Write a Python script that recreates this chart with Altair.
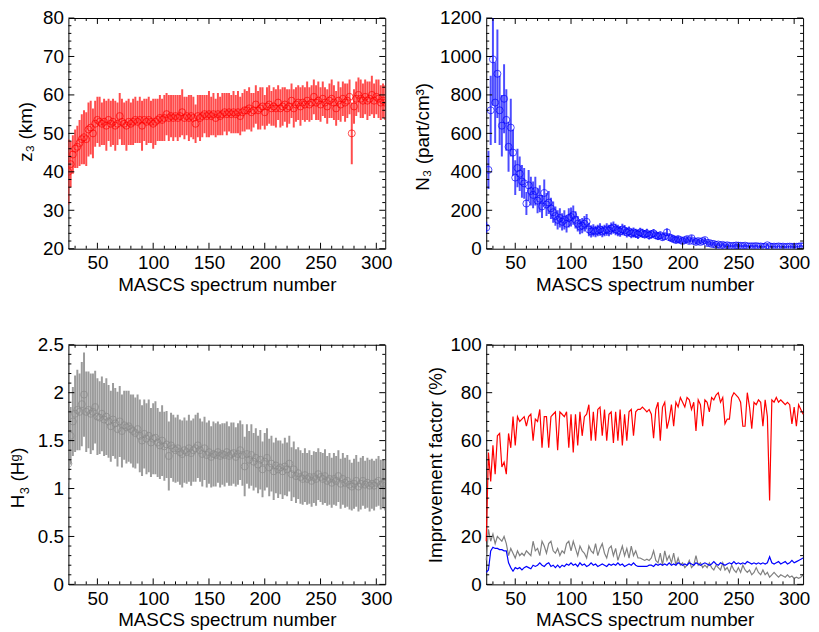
import altair as alt
import pandas as pd

FONT = "Liberation Sans"
FS = 19
RED, BLUE, GRAY = "#ff0000", "#0000ff", "#808080"

# MASCS spectrum numbers (every second spectrum, 24..308)
SPEC = list(range(24, 309, 2))

# z3 (km) and its error
Z = [40, 42, 44.5, 46, 46.5, 47.5, 48.5, 49, 48.5, 51,
     51.5, 50, 52.5, 53.5, 53, 52.5, 53, 52, 53.5, 52.5,
     53, 52, 52.5, 54.5, 53, 52.5, 52, 53, 52.5, 53,
     53.5, 53, 53.5, 52, 53.5, 53, 53.5, 53, 52.5, 53,
     53.5, 54, 53.5, 54, 55, 54, 54.5, 54, 54.5, 54,
     54.5, 55.5, 54, 54.5, 54, 54.5, 54, 52.5, 54.5, 54,
     54.5, 55, 54.5, 55, 54.5, 55, 54, 55, 54.5, 55,
     55.5, 55, 55.5, 55, 55.5, 55, 55.5, 54.5, 55.5, 56,
     56, 56.5, 55.5, 56, 57.5, 56, 56.5, 57, 55.5, 57,
     57.5, 56.5, 57, 56.5, 58, 56.5, 57, 57.5, 56.5, 57,
     58.5, 56.5, 57.5, 58, 57, 58, 57.5, 58.5, 57.5, 58,
     59.5, 58, 58.5, 57.5, 59, 58, 57, 58.5, 59, 58,
     56.5, 58.5, 57.5, 59, 58, 58.5, 59.5, 50, 57, 59,
     60, 59, 58.5, 59.5, 58.5, 59, 60, 58.5, 59.5, 59,
     58, 58.5, 58]
ZE = [8.5, 6, 5, 5, 5.5, 6, 6.5, 7, 7, 7,
      7, 6.5, 6, 6, 6.5, 5.5, 6, 6.5, 5.5, 6,
      6, 6.5, 5.5, 6, 6, 5.5, 6.5, 6, 5.5, 6,
      6, 5.5, 6, 6.5, 5.5, 6, 6, 5.5, 6.5, 6,
      5.5, 6, 5.5, 6, 5.5, 6, 5.5, 6, 5.5, 6,
      5.5, 6, 5.5, 5, 6, 5.5, 5.5, 5, 5.5, 6,
      5.5, 5, 5.5, 6, 5, 5.5, 5, 5.5, 5, 5.5,
      5, 5.5, 5, 5, 5.5, 5, 5.5, 5, 5, 5.5,
      5, 5.5, 5, 4.5, 5, 5, 5.5, 5, 4.5, 5,
      5, 4.5, 5, 5, 4.5, 5, 5, 4.5, 5, 4.5,
      4.5, 5, 4.5, 4.5, 5, 4.5, 4.5, 5, 4.5, 4.5,
      4.5, 4.5, 5, 4.5, 4.5, 4, 4.5, 4.5, 5, 4.5,
      4.5, 5, 4.5, 4.5, 5, 4.5, 4.5, 8, 4.5, 4.5,
      4.5, 5, 4.5, 4.5, 5, 4.5, 5, 4.5, 4.5, 5,
      4.5, 4.5, 4.5]

# N3 (part/cm3) and its error
N = [110, 410, 720, 985, 760, 910, 720, 640, 780, 670,
     530, 630, 500, 370, 420, 390, 350, 340, 235, 330,
     300, 280, 300, 250, 260, 220, 290, 230, 240, 210,
     190, 170, 150, 160, 140, 150, 130, 160, 165, 175,
     150, 130, 115, 120, 130, 140, 100, 90, 95, 90,
     95, 100, 90, 95, 100, 95, 105, 110, 100, 95,
     90, 100, 95, 85, 90, 80, 85, 80, 75, 85,
     80, 75, 80, 70, 75, 80, 70, 65, 70, 60,
     65, 85, 60, 55, 50, 45, 50, 45, 40, 45,
     50, 40, 55, 40, 35, 40, 35, 40, 45, 30,
     30, 25, 25, 20, 22, 18, 20, 15, 18, 15,
     14, 15, 17, 16, 15, 14, 16, 13, 12, 13,
     12, 14, 11, 12, 10, 11, 18, 12, 10, 11,
     10, 12, 10, 11, 9, 10, 11, 10, 9, 10,
     11, 13, 12]
NE = [30, 100, 180, 240, 210, 230, 180, 160, 180, 160,
      130, 150, 120, 90, 100, 90, 85, 80, 60, 80,
      75, 70, 75, 65, 70, 60, 70, 60, 60, 55,
      55, 50, 50, 50, 45, 50, 45, 50, 50, 50,
      45, 40, 40, 40, 40, 40, 35, 32, 32, 30,
      30, 32, 30, 30, 32, 30, 32, 32, 30, 30,
      28, 30, 28, 26, 26, 25, 26, 24, 24, 24,
      24, 22, 24, 22, 22, 22, 20, 20, 20, 18,
      18, 20, 18, 18, 17, 16, 17, 15, 15, 15,
      15, 15, 16, 14, 13, 13, 12, 13, 13, 12,
      11, 10, 10, 9, 9, 9, 8, 8, 8, 7,
      7, 7, 7, 7, 7, 6, 7, 6, 6, 6,
      6, 6, 6, 6, 5, 5, 6, 5, 5, 5,
      5, 5, 5, 5, 5, 5, 5, 5, 5, 5,
      5, 6, 6]

# H3 (Hg) and its error
H = [1.26, 1.55, 1.70, 1.78, 1.82, 1.80, 1.88, 1.98, 1.80, 1.82,
     1.78, 1.80, 1.85, 1.75, 1.74, 1.78, 1.72, 1.75, 1.70, 1.65,
     1.72, 1.68, 1.62, 1.70, 1.60, 1.66, 1.64, 1.65, 1.62, 1.60,
     1.58, 1.62, 1.55, 1.50, 1.57, 1.52, 1.55, 1.48, 1.52, 1.53,
     1.48, 1.45, 1.50, 1.44, 1.46, 1.34, 1.45, 1.42, 1.40, 1.42,
     1.38, 1.36, 1.40, 1.38, 1.42, 1.37, 1.40, 1.42, 1.45, 1.40,
     1.36, 1.42, 1.35, 1.38, 1.33, 1.36, 1.35, 1.38, 1.34, 1.36,
     1.35, 1.38, 1.34, 1.36, 1.37, 1.33, 1.36, 1.40, 1.35, 1.23,
     1.36, 1.30, 1.35, 1.28, 1.32, 1.25, 1.30, 1.20, 1.28, 1.32,
     1.22, 1.26, 1.18, 1.24, 1.20, 1.22, 1.18, 1.23, 1.20, 1.26,
     1.15, 1.20, 1.13, 1.16, 1.12, 1.10, 1.14, 1.10, 1.12, 1.08,
     1.12, 1.10, 1.15, 1.12, 1.10, 1.13, 1.08, 1.10, 1.06, 1.10,
     1.08, 1.13, 1.05, 1.10, 1.06, 1.08, 1.04, 1.02, 1.05, 1.08,
     1.02, 1.05, 1.08, 1.04, 1.06, 1.03, 1.05, 1.03, 1.06, 1.08,
     1.04, 1.05, 1.03]
HE = [0.20, 0.30, 0.36, 0.40, 0.42, 0.40, 0.44, 0.44, 0.42, 0.40,
      0.42, 0.40, 0.38, 0.40, 0.38, 0.39, 0.38, 0.40, 0.38, 0.37,
      0.38, 0.37, 0.39, 0.37, 0.38, 0.36, 0.38, 0.37, 0.36, 0.38,
      0.37, 0.36, 0.38, 0.37, 0.36, 0.37, 0.38, 0.36, 0.37, 0.38,
      0.36, 0.35, 0.37, 0.36, 0.35, 0.36, 0.34, 0.35, 0.34, 0.35,
      0.34, 0.35, 0.34, 0.33, 0.35, 0.34, 0.33, 0.35, 0.34, 0.33,
      0.34, 0.33, 0.34, 0.33, 0.32, 0.34, 0.33, 0.32, 0.33, 0.32,
      0.33, 0.32, 0.31, 0.33, 0.32, 0.31, 0.32, 0.31, 0.32, 0.31,
      0.31, 0.30, 0.32, 0.30, 0.31, 0.30, 0.31, 0.29, 0.30, 0.31,
      0.30, 0.29, 0.30, 0.29, 0.30, 0.28, 0.29, 0.30, 0.28, 0.29,
      0.28, 0.29, 0.28, 0.27, 0.28, 0.27, 0.28, 0.27, 0.28, 0.27,
      0.27, 0.28, 0.27, 0.26, 0.27, 0.28, 0.26, 0.27, 0.26, 0.27,
      0.26, 0.27, 0.26, 0.27, 0.26, 0.27, 0.26, 0.25, 0.26, 0.27,
      0.26, 0.27, 0.26, 0.25, 0.26, 0.27, 0.26, 0.26, 0.25, 0.26,
      0.26, 0.25, 0.26]

# Improvement factor (%)
IMP_RED = [18, 55, 43, 58, 46, 62, 63, 49, 51, 46,
           63, 57, 70, 58, 70, 68, 69, 70, 66, 70,
           71, 60, 69, 68, 73, 57, 70, 70, 57, 70,
           71, 72, 56, 72, 71, 70, 72, 57, 71, 55,
           71, 58, 72, 62, 70, 71, 75, 60, 72, 60,
           73, 74, 62, 73, 60, 71, 72, 59, 72, 60,
           73, 58, 71, 60, 72, 73, 62, 72, 73, 73,
           74, 73, 72, 73, 71, 61, 73, 76, 60, 74,
           76, 65, 69, 75, 66, 76, 74, 78, 76, 74,
           78, 77, 73, 76, 64, 77, 75, 66, 77, 76,
           72, 78, 77, 79, 80, 76, 78, 67, 69, 69,
           78, 80, 79, 78, 76, 66, 66, 80, 74, 65,
           76, 75, 77, 76, 66, 77, 70, 35, 77, 76,
           78, 76, 77, 76, 75, 76, 75, 67, 74, 66,
           75, 73, 71]
IMP_GRAY = [10, 23, 18, 21, 17, 20, 19, 18, 20, 17,
            12, 15, 13, 11, 14, 12, 13, 12, 14, 13,
            12, 18, 14, 15, 12, 18, 16, 13, 17, 18,
            14, 13, 15, 12, 14, 13, 17, 18, 14, 18,
            15, 12, 16, 14, 13, 11, 16, 14, 13, 17,
            12, 15, 17, 13, 11, 15, 16, 12, 15, 10,
            13, 16, 12, 15, 11, 16, 12, 14, 11, 11,
            10.5, 10, 10.5, 10, 11, 14, 10, 9, 13, 8,
            14, 10, 12, 9, 13, 8, 11, 8, 9, 7,
            8, 10, 7, 8, 12, 8, 9, 7, 8, 7,
            9, 7, 6, 8, 7, 6, 9, 6, 7, 5,
            8, 6, 5, 7, 5, 8, 6, 5, 6, 4,
            5, 7, 5, 4, 6, 4, 5, 3, 4, 5,
            4, 3, 4, 3.5, 3, 4, 3, 3.5, 2.5, 3,
            2.5, 3, 4]
IMP_BLUE = [5, 6, 14, 15.5, 15, 15, 14.5, 14.5, 14, 14,
            9, 7, 5.5, 7, 6.5, 7, 6, 7, 7.5, 7,
            6.5, 8, 7.5, 8, 9, 8, 7.5, 8.5, 9, 7.5,
            8, 7, 8, 7, 8, 7.5, 8.5, 8, 9, 8,
            8.5, 7.5, 9, 8, 8.5, 7.5, 8, 9, 8, 8.5,
            7.5, 8, 8.5, 8, 7.5, 8.5, 8, 8.5, 8, 9,
            8, 8.5, 7.5, 8, 8.5, 8, 9, 8, 7.5, 7.5,
            7.5, 7.5, 7.5, 8, 8, 7.5, 8.5, 8, 8.5, 8,
            8.5, 8, 9, 8, 8.5, 8, 9, 8.5, 8, 8.5,
            8, 9, 8.5, 8, 9, 8.5, 8, 8.5, 9, 8.5,
            8, 8.5, 9.5, 8.5, 8, 9, 8.5, 8, 8.5, 9,
            8.5, 9.5, 8.5, 9, 8.5, 9, 8.5, 9.5, 9, 8.5,
            9, 8.5, 9, 8.5, 9, 8.5, 9, 11.5, 9, 8.5,
            9, 9.5, 8.5, 9, 9.5, 8.5, 9, 10, 9, 9.5,
            10, 10.5, 11]

# tick values
X_MAJOR = [50, 100, 150, 200, 250, 300]
X_MINOR = [v for v in range(30, 301, 10) if v % 50]
Z_MAJOR = [20, 30, 40, 50, 60, 70, 80]
Z_MINOR = [v for v in range(20, 81, 2) if v % 10]
N_MAJOR = [0, 200, 400, 600, 800, 1000, 1200]
N_MINOR = [v for v in range(0, 1201, 40) if v % 200]
H_MAJOR = [0, 0.5, 1, 1.5, 2, 2.5]
H_MINOR = [round(v / 10, 1) for v in range(0, 26) if v % 5]
I_MAJOR = [0, 20, 40, 60, 80, 100]
I_MINOR = [v for v in range(0, 101, 4) if v % 20]

df = pd.DataFrame({"spec": SPEC, "z": Z, "ze": ZE, "n": N, "ne": NE,
                   "h": H, "he": HE, "red": IMP_RED, "gray": IMP_GRAY,
                   "blue": IMP_BLUE})
for c, e in (("z", "ze"), ("n", "ne"), ("h", "he")):
    df[c + "_lo"] = df[c] - df[e]
    df[c + "_hi"] = df[c] + df[e]

W = 320
HT_TOP, HT_BOT = 233, 242
xscale = alt.Scale(domain=[24, 308], nice=False, zero=False)


def xaxis():
    return alt.Axis(title="MASCS spectrum number", values=X_MAJOR, format="d",
                    ticks=False, domain=False, grid=False, labelPadding=5,
                    labelFlush=False, labelOverlap=False, titleY=27)


def yaxis(title, values, fmt, tx, ty):
    return alt.Axis(title=title, values=values, format=fmt, ticks=False,
                    domain=False, grid=False, labelPadding=5, labelOverlap=False,
                    titleX=tx, titleY=ty, titleAngle=270, titleAlign="center",
                    titleBaseline="alphabetic")


def tick_layers(yscale, ymaj, ymin, ht):
    layers = []
    for vals, L in ((X_MAJOR, 6), (X_MINOR, 3)):
        base = alt.Chart(pd.DataFrame({"v": vals})).mark_rule(color="black", strokeWidth=1)
        xe = alt.X("v:Q", scale=xscale, axis=None)
        layers.append(base.encode(x=xe, y=alt.value(ht), y2=alt.value(ht - L)))
        layers.append(base.encode(x=xe, y=alt.value(0), y2=alt.value(L)))
    for vals, L in ((ymaj, 6), (ymin, 3)):
        base = alt.Chart(pd.DataFrame({"v": vals})).mark_rule(color="black", strokeWidth=1)
        ye = alt.Y("v:Q", scale=yscale, axis=None)
        layers.append(base.encode(y=ye, x=alt.value(0), x2=alt.value(L)))
        layers.append(base.encode(y=ye, x=alt.value(W), x2=alt.value(W - L)))
    return layers


def finish(layers, ht):
    return alt.layer(*layers).resolve_axis(x="independent", y="independent").properties(
        width=W, height=ht)


def err_panel(col, color, yscale, axis, ymaj, ymin, bar_opacity, ht, extra=()):
    bars = alt.Chart(df).mark_rule(color=color, strokeWidth=2, opacity=bar_opacity, clip=True).encode(
        x=alt.X("spec:Q", scale=xscale, axis=xaxis()),
        y=alt.Y(col + "_lo:Q", scale=yscale, axis=axis),
        y2=col + "_hi:Q")
    pts = alt.Chart(df).mark_point(shape="circle", filled=False, size=50, strokeWidth=1,
                                   color=color, clip=True).encode(
        x=alt.X("spec:Q", scale=xscale, axis=None),
        y=alt.Y(col + ":Q", scale=yscale, axis=None))
    return finish([bars, pts, *tick_layers(yscale, ymaj, ymin, ht), *extra], ht)


zs = alt.Scale(domain=[20, 80], nice=False, zero=False)
ns = alt.Scale(domain=[0, 1200], nice=False)
hs = alt.Scale(domain=[0, 2.5], nice=False)
iscale = alt.Scale(domain=[0, 100], nice=False)

tl = err_panel("z", RED, zs, yaxis("z₃ (km)", Z_MAJOR, "d", -37, HT_TOP / 2 - 2),
               Z_MAJOR, Z_MINOR, 0.7, HT_TOP)
tr = err_panel("n", BLUE, ns, yaxis("N₃ (part/cm³)", N_MAJOR, "d", -58, HT_TOP / 2 + 3),
               N_MAJOR, N_MINOR, 0.7, HT_TOP)


def title_piece(text, bx, by, size):
    return alt.Chart(pd.DataFrame({"t": [text]})).mark_text(
        angle=270, align="left", baseline="alphabetic", font=FONT, fontSize=size,
        color="black").encode(text="t:N", x=alt.value(bx), y=alt.value(by))


y0 = HT_BOT / 2 + 44
h_title = [
    title_piece("H", -45, y0, FS),
    title_piece("3", -40, y0 - 14, 13),
    title_piece("(H", -45, y0 - 27, FS),
    title_piece("g", -50, y0 - 47, 13),
    title_piece(")", -45, y0 - 55, FS),
]
bl = err_panel("h", "#8a8a8a", hs, yaxis("", H_MAJOR, ".1~f", -45, HT_BOT / 2),
               H_MAJOR, H_MINOR, 0.85, HT_BOT, extra=h_title)

iax = yaxis("Improvement factor (%)", I_MAJOR, "d", -45, HT_BOT / 2)
lg = alt.Chart(df).mark_line(color=GRAY, strokeWidth=1.2).encode(
    x=alt.X("spec:Q", scale=xscale, axis=xaxis()),
    y=alt.Y("gray:Q", scale=iscale, axis=iax))
lb = alt.Chart(df).mark_line(color=BLUE, strokeWidth=1.2).encode(
    x=alt.X("spec:Q", scale=xscale, axis=None), y=alt.Y("blue:Q", scale=iscale, axis=None))
lr = alt.Chart(df).mark_line(color=RED, strokeWidth=1.2).encode(
    x=alt.X("spec:Q", scale=xscale, axis=None), y=alt.Y("red:Q", scale=iscale, axis=None))
br = finish([lg, lb, lr, *tick_layers(iscale, I_MAJOR, I_MINOR, HT_BOT)], HT_BOT)

chart = alt.concat(tl, tr, bl, br, columns=2, spacing={"row": 40, "column": 20}).properties(
    padding={"left": 0, "top": -3, "right": 0, "bottom": 0}, background="white"
).configure_view(stroke="black", strokeWidth=1).configure_axis(
    labelFont=FONT, titleFont=FONT, labelFontSize=FS, titleFontSize=FS,
    labelColor="black", titleColor="black", titleFontWeight="normal")

chart.save("out.html", embed_options={"renderer": "svg", "actions": False})
